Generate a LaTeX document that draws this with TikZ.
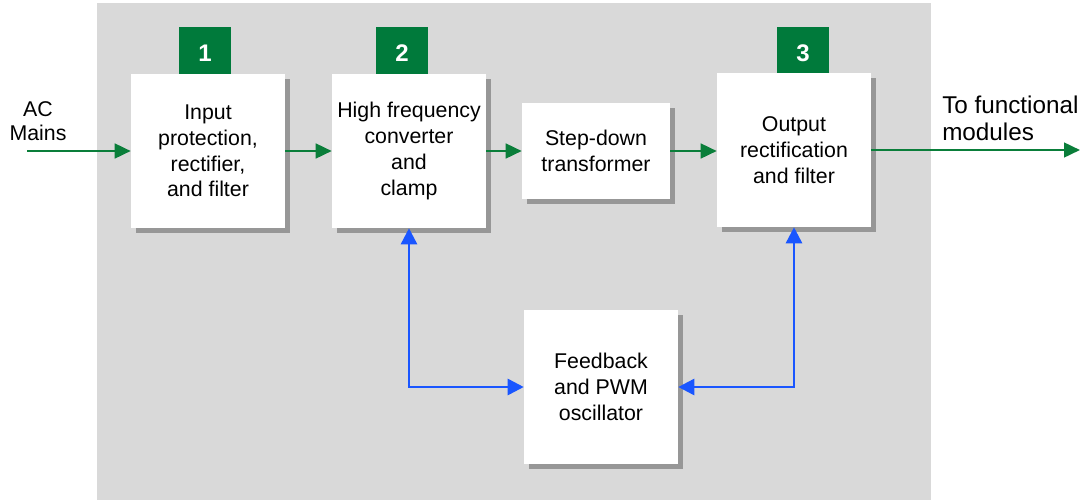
\documentclass[tikz,border=0pt]{standalone}
\usepackage{fontspec}
\setmainfont{Liberation Sans}
\usetikzlibrary{shadows,arrows.meta}
\definecolor{bggrey}{HTML}{D9D9D9}
\definecolor{mygreen}{HTML}{0A7E3A}
\definecolor{numgreen}{HTML}{007A3B}
\definecolor{myblue}{HTML}{1A56FF}
\begin{document}
\begin{tikzpicture}[x=0.75pt,y=-0.75pt,
 blk/.style={draw=none,fill=white,minimum width=115.5pt,minimum height=115.5pt,inner sep=0pt,align=center,
   font=\fontsize{16}{19.3}\selectfont,
   drop shadow={shadow xshift=3.5pt,shadow yshift=-3.5pt,fill=black,opacity=0.3}},
 num/.style={fill=numgreen,minimum size=39pt,inner sep=0pt,text=white,font=\fontsize{18}{20}\selectfont\bfseries},
 garrow/.style={draw=mygreen,line width=1.9pt,-{Triangle[length=12pt,width=11pt]}},
 barrow/.style={draw=myblue,line width=1.9pt,{Triangle[length=12pt,width=12pt]}-{Triangle[length=12pt,width=12pt]}},
 lbl/.style={align=center,inner sep=0pt,font=\fontsize{16}{18}\selectfont}]
\useasboundingbox (0,0) rectangle (1080,500);
\fill[white] (0,0) rectangle (1080,500);
\fill[bggrey] (97,3) rectangle (931,500);

\node[num] (n1) at (205,53) {1};
\node[num] (n2) at (402,53) {2};
\node[num] (n3) at (803,53) {3};

\node[blk] (b1) at (208,151) {Input\\protection,\\rectifier,\\and filter};
\node[blk] (b2) at (409,151) {High frequency\\converter\\and\\clamp};
\node[blk,minimum width=111pt,minimum height=72pt] (sd) at (596,151) {Step-down\\transformer};
\node[blk] (b3) at (794,150) {Output\\rectification\\and filter};
\node[blk] (fb) at (601,387) {Feedback\\and PWM\\oscillator};

\node[lbl] (ac) at (38,121) {AC\\Mains};
\coordinate (acin) at (27,151);
\coordinate (out) at (1080,150);
\node[align=left,anchor=west,inner sep=0pt,font=\fontsize{18.2}{20.5}\selectfont] (tf) at (942,118) {To functional\\modules};

\draw[garrow] (acin) -- (b1.west);
\draw[garrow] (b1.east) -- (b2.west);
\draw[garrow] (b2.east) -- (sd.west);
\draw[garrow] (sd.east) -- (b3.west |- sd.east);
\draw[garrow] (b3.east) -- (out);

\draw[barrow] (b2.south) |- (fb.west);
\draw[barrow] (b3.south) |- (fb.east);
\end{tikzpicture}
\end{document}
